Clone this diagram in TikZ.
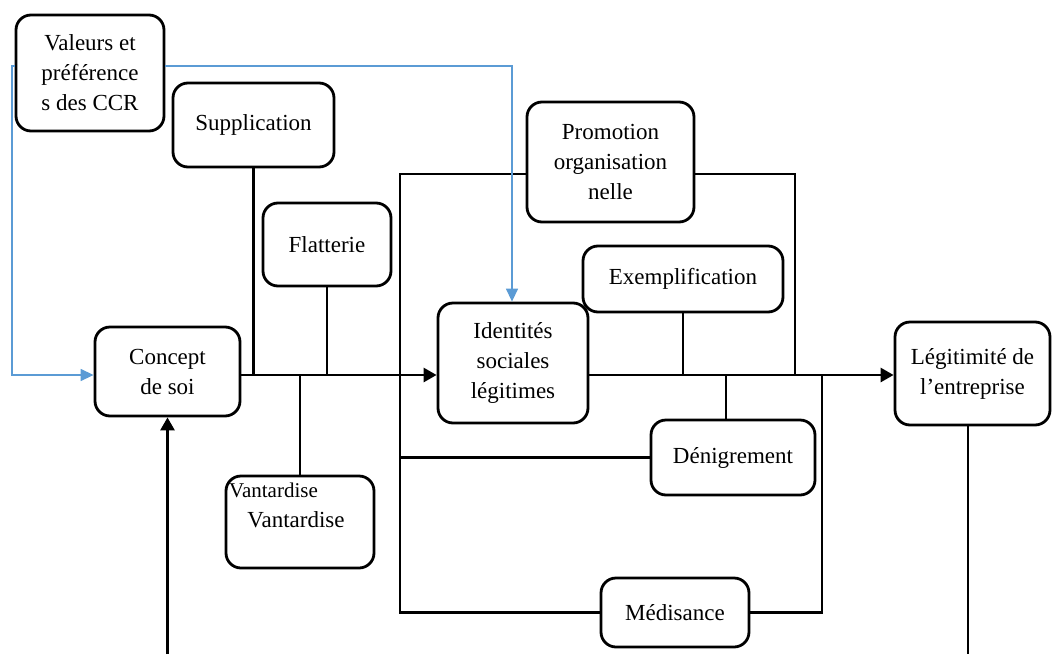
\documentclass[tikz,border=0pt]{standalone}
\usepackage{fontspec}
\setmainfont{Liberation Serif}
\usetikzlibrary{arrows.meta}
\definecolor{lblue}{RGB}{91,155,213}
\begin{document}
\begin{tikzpicture}[x=1pt,y=-1pt,
  box/.style={draw=black,line width=2.8pt,rounded corners=15pt,inner sep=0pt,align=center,
    font=\fontsize{23}{30}\selectfont},
  conn/.style={draw=black,line width=2.8pt},
  thinconn/.style={draw=black,line width=1.2pt},
  arr/.style={conn,-{Triangle[length=13pt,width=14pt]}},
  blu/.style={draw=lblue,line width=1.4pt},
  bluarr/.style={blu,-{Triangle[length=13pt,width=12pt]}},
  txt/.style={inner sep=0pt,font=\fontsize{23}{30}\selectfont}]
\useasboundingbox (0,0) rectangle (1053,654);
% nodes
\node[box,minimum width=148pt,minimum height=116pt] (val) at (90,73) {Valeurs et\\pr\'eférence\\s des CCR};
\node[box,minimum width=161pt,minimum height=84pt] (sup) at (253.5,125) {Supplication};
\node[box,minimum width=128pt,minimum height=83pt] (fla) at (327,244.5) {Flatterie};
\node[box,minimum width=167pt,minimum height=120pt] (pro) at (610.5,162) {Promotion\\organisation\\nelle};
\node[box,minimum width=200pt,minimum height=66pt] (exe) at (683,279) {Exemplification};
\node[box,minimum width=150pt,minimum height=120pt] (ide) at (513,363) {Identités\\sociales\\légitimes};
\node[box,minimum width=145pt,minimum height=89pt] (con) at (167.5,371.5) {Concept\\de soi};
\node[box,minimum width=155pt,minimum height=103pt] (leg) at (972.5,373.5) {Légitimité de\\l’entreprise};
\node[box,minimum width=164pt,minimum height=75pt] (den) at (733,457.5) {Dénigrement};
\node[box,minimum width=148pt,minimum height=92pt] (van) at (300,522) {};
\node[txt] (van1) at (296,520) {Vantardise};
\node[anchor=west,inner sep=0pt,font=\fontsize{21}{26}\selectfont] (van2) at (229,490) {Vantardise};
\node[box,minimum width=148pt,minimum height=69pt] (med) at (675,612.5) {Médisance};
% coordinates
\coordinate (ml) at (0,375);
\coordinate (bl) at (400,174);
\coordinate (pr) at (795,174);
\coordinate (dv) at (726,0);
\coordinate (mr) at (822,375);
\coordinate (bot) at (0,654);
\coordinate (lv) at (968,0);
\coordinate (bt) at (512,66);
\coordinate (bl2) at (12,66);
% connectors
\draw[arr] (con.east |- ml) -- (ide.west |- ml);
\draw[conn] (sup.south) -- (sup.south |- ml);
\draw[thinconn] (fla.south) -- (fla.south |- ml);
\draw[conn] (van.north) -- (van.north |- ml);
\draw[conn] (pro.west |- bl) -- (bl) |- (med.west);
\draw[conn] (bl |- den.west) -- (den.west);
\draw[conn] (pro.east |- pr) -- (pr) -- (pr |- ml);
\draw[arr] (ide.east |- ml) -- (leg.west |- ml);
\draw[conn] (exe.south) -- (exe.south |- ml);
\draw[conn] (den.north -| dv) -- (dv |- ml);
\draw[conn] (med.east) -| (mr);
\draw[arr] (con.south |- bot) -- (con.south);
\draw[conn] (leg.south -| lv) -- (lv |- bot);
% blue
\draw[bluarr] (val.east |- bt) -- (bt) -- (bt |- ide.north);
\draw[bluarr] (val.west |- bl2) -- (bl2) |- (con.west |- ml);
\end{tikzpicture}
\end{document}
